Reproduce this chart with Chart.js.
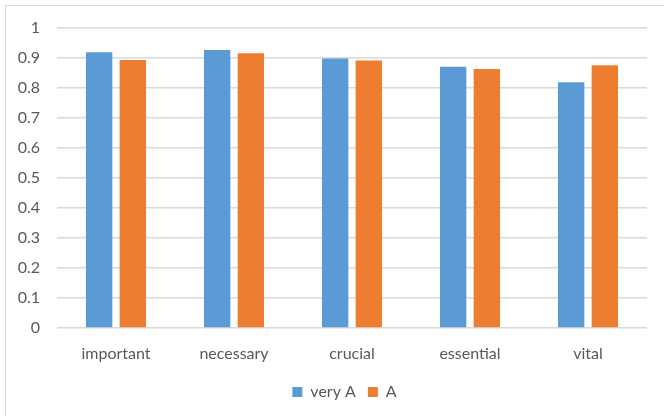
<!DOCTYPE html>
<html>
<head>
<meta charset="utf-8">
<script src="https://cdn.jsdelivr.net/npm/chart.js@4"></script>
<style>
  html, body { margin: 0; padding: 0; background: #ffffff; }
  body { width: 664px; height: 416px; overflow: hidden; position: relative; }
  #frame { position: absolute; left: 5px; top: 5px; width: 700px; height: 500px; border: 1px solid #d9d9d9; box-sizing: border-box; }
  #wrap { position: absolute; left: 0; top: 0; width: 664px; height: 416px; }
</style>
</head>
<body>
<div id="frame"></div>
<div id="wrap"><canvas id="chart" width="664" height="416"></canvas></div>
<script>
// Word categories and the two series of scores
const categories = ['important', 'necessary', 'crucial', 'essential', 'vital'];
const veryA = [0.919, 0.927, 0.898, 0.871, 0.819];
const plainA = [0.893, 0.916, 0.892, 0.863, 0.876];
const seriesNames = ['very A', 'A'];
const yTicks = [0, 0.1, 0.2, 0.3, 0.4, 0.5, 0.6, 0.7, 0.8, 0.9, 1];

const textColor = '#595959';
const fontFamily = 'Lato, "Liberation Sans", sans-serif';

// Nudge the legend block to the right so it sits under the middle of the plot
const legendShift = {
  id: 'legendShift',
  afterLayout(chart) {
    const lg = chart.legend;
    if (!lg) return;
    lg.left += 21;
    lg.right += 21;
    (lg.legendHitBoxes || []).forEach(b => { b.left += 21; });
  }
};

new Chart(document.getElementById('chart'), {
  type: 'bar',
  data: {
    labels: categories,
    datasets: [
      { label: seriesNames[0], data: veryA, backgroundColor: '#5B9BD5' },
      { label: seriesNames[1], data: plainA, backgroundColor: '#ED7D31' }
    ]
  },
  plugins: [legendShift],
  options: {
    responsive: false,
    animation: false,
    devicePixelRatio: 1,
    datasets: {
      bar: { categoryPercentage: 0.571, barPercentage: 0.783 }
    },
    layout: { padding: { left: 0, right: 17, top: 28, bottom: 6 } },
    plugins: {
      tooltip: { enabled: false },
      legend: {
        position: 'bottom',
        labels: {
          color: textColor,
          font: { family: fontFamily, size: 16 },
          boxWidth: 10,
          boxHeight: 10,
          padding: 12
        }
      }
    },
    scales: {
      x: {
        grid: { display: false },
        border: { display: false },
        ticks: { color: textColor, font: { family: fontFamily, size: 16 }, padding: 8 },
        afterFit(scale) { scale.height = 44; }
      },
      y: {
        min: 0,
        max: 1,
        afterBuildTicks(scale) { scale.ticks = yTicks.map(v => ({ value: v })); },
        ticks: {
          color: textColor,
          font: { family: fontFamily, size: 16 },
          padding: 17,
          callback: (v) => String(v)
        },
        grid: { color: '#d9d9d9', lineWidth: 1.5, drawTicks: false },
        border: { display: false },
        afterFit(scale) { scale.width = 57; }
      }
    }
  }
});
</script>
</body>
</html>
